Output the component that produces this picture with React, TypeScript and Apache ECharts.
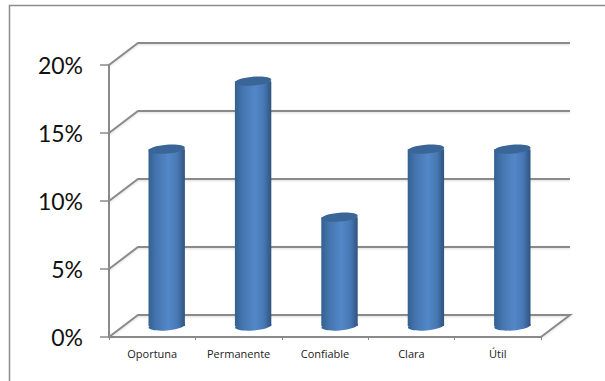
import React, { useEffect, useRef } from "react";
import * as echarts from "echarts";

const categories = ["Oportuna", "Permanente", "Confiable", "Clara", "Útil"];
const percentages = [13, 18, 8, 13, 13];
const wallTicks = [0, 5, 10, 15, 20];

const LINE = "#8a8a8a";
const DEPTH_X = 29;
const DEPTH_Y = -22;
const BAR_RX = 18.2;
const BAR_RY = 4.4;
const TILT = 0.08;

const cylinderFill = {
  type: "linear" as const,
  x: 0,
  y: 0,
  x2: 1,
  y2: 0,
  colorStops: [
    { offset: 0, color: "#33608f" },
    { offset: 0.2, color: "#4474ae" },
    { offset: 0.55, color: "#5387c8" },
    { offset: 0.8, color: "#4778b4" },
    { offset: 1, color: "#2f537f" },
  ],
};

// Side wall, back wall and floor lines, set back from the front axes.
function renderWall(params: any, api: any) {
  const grid = params.coordSys;
  const y = api.coord([0, api.value(1)])[1];
  const left = grid.x;
  const right = grid.x + grid.width;
  const style = {
    stroke: LINE,
    lineWidth: 2,
    fill: "none",
    shadowColor: "rgba(0,0,0,0.14)",
    shadowBlur: 2,
    shadowOffsetY: 1,
  };
  const points = [
    [left, y],
    [left + DEPTH_X, y + DEPTH_Y],
    [right + DEPTH_X, y + DEPTH_Y],
  ];
  if (api.value(1) === 0) points.push([right, y]);
  return { type: "polyline", shape: { points }, style };
}

// A cylinder standing halfway into the floor's depth.
function renderBar(_params: any, api: any) {
  const top = api.coord([api.value(0), api.value(1)]);
  const base = api.coord([api.value(0), 0]);
  const cx = top[0] + DEPTH_X / 2;
  const topY = top[1] + DEPTH_Y / 2;
  const baseY = base[1] + DEPTH_Y / 2;
  return {
    type: "group",
    children: [
      {
        type: "ellipse",
        shape: { cx, cy: baseY, rx: BAR_RX, ry: BAR_RY },
        rotation: TILT,
        originX: cx,
        originY: baseY,
        style: { fill: cylinderFill },
      },
      {
        type: "rect",
        shape: { x: cx - BAR_RX, y: topY, width: BAR_RX * 2, height: baseY - topY },
        style: { fill: cylinderFill },
      },
      {
        type: "ellipse",
        shape: { cx, cy: topY, rx: BAR_RX, ry: BAR_RY },
        rotation: TILT,
        originX: cx,
        originY: topY,
        style: { fill: "#3a6597" },
      },
    ],
  };
}

export default function App() {
  const ref = useRef<HTMLDivElement>(null);

  useEffect(() => {
    const chart = echarts.init(ref.current!, null, { renderer: "svg" });
    chart.setOption({
      animation: false,
      backgroundColor: "#ffffff",
      graphic: [
        {
          type: "polyline",
          silent: true,
          shape: { points: [[9.5, 381], [9.5, 5.5], [605, 5.5]] },
          style: { stroke: "#8c8c8c", lineWidth: 1.5, fill: "none" },
        },
      ],
      grid: { left: 109, right: 64, top: 65, bottom: 44 },
      xAxis: {
        type: "category",
        data: categories,
        axisLine: { lineStyle: { color: LINE, width: 2 } },
        axisTick: { show: true, length: 3, lineStyle: { color: LINE, width: 1 } },
        axisLabel: { color: "#1a1a1a", fontFamily: "Open Sans", fontSize: 11, margin: 11 },
        splitLine: { show: false },
      },
      yAxis: {
        type: "value",
        min: 0,
        max: 20,
        interval: 5,
        axisLine: { show: true, lineStyle: { color: LINE, width: 2 } },
        axisTick: { show: true, length: 9, lineStyle: { color: LINE, width: 1.5 } },
        axisLabel: {
          color: "#111111",
          fontFamily: "Lato",
          fontSize: 23,
          margin: 26,
          padding: [4, 0, 0, 0],
          formatter: "{value}%",
        },
        splitLine: { show: false },
      },
      series: [
        {
          type: "custom",
          renderItem: renderWall,
          data: wallTicks.map((v) => [0, v]),
          encode: { x: 0, y: 1 },
          z: 1,
          silent: true,
        },
        {
          type: "custom",
          renderItem: renderBar,
          data: categories.map((c, i) => [c, percentages[i]]),
          encode: { x: 0, y: 1 },
          z: 3,
          silent: true,
        },
      ],
    });
    return () => chart.dispose();
  }, []);

  return (
    <div
      ref={ref}
      style={{ position: "fixed", left: 0, top: 0, width: 605, height: 381 }}
    />
  );
}
